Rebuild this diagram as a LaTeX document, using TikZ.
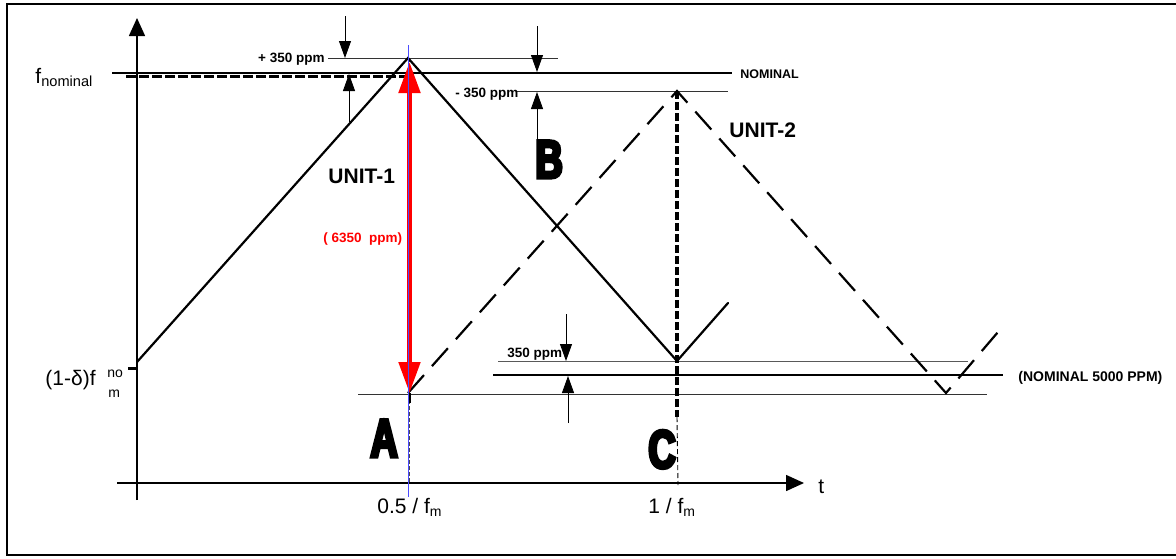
\documentclass[tikz,border=0pt]{standalone}
\usepackage{fontspec}
\setmainfont{Liberation Sans}
\newfontfamily\heavyfont[FakeBold=6,FakeStretch=0.7]{Liberation Sans Bold}
\usetikzlibrary{arrows.meta}

\begin{document}
\begin{tikzpicture}[x=1pt,y=-1pt,line width=0.9pt,
    wave/.style={line width=2.2pt,line cap=round},
    wavedash/.style={wave,line cap=butt,dash pattern=on 24pt off 12pt},
    guide/.style={line width=0.9pt,draw=black!80},
    dimarrow/.style={line width=0.9pt,-{Triangle[length=17pt,width=12pt]}},
    axisarrow/.style={line width=1.5pt,-{Triangle[length=18pt,width=16pt]}},
    ppmlbl/.style={inner sep=0pt,font=\bfseries\fontsize{13.5}{15}\selectfont},
    unitlbl/.style={inner sep=0pt,font=\bfseries\fontsize{21}{23}\selectfont},
    axislbl/.style={inner sep=0pt,font=\fontsize{21}{23}\selectfont},
    bigletter/.style={inner sep=0pt,font=\heavyfont\fontsize{54}{54}\selectfont}]
  \useasboundingbox (0,0) rectangle (1176,558);
  % frame
  \draw[line width=2pt] (1176,4) -- (7,4) -- (7,555) -- (1176,555);

  % key points of the two sweeps
  \coordinate (uastart) at (137,362);
  \coordinate (uapeak) at (408,58);
  \coordinate (uavalley) at (677,361);
  \coordinate (uaend) at (728,303);
  \coordinate (ubstart) at (408,393);
  \coordinate (ubpeak) at (677,91);
  \coordinate (ubvalley) at (946,393);
  \coordinate (ubend) at (998,332);

  % axes
  \coordinate (yfoot) at (137,500);
  \coordinate (ytop) at (137,18);
  \coordinate (xfoot) at (117,483);
  \coordinate (xtip) at (804,483);
  \draw[axisarrow] (yfoot) -- (ytop);
  \draw[axisarrow] (xfoot) -- (xtip);
  \node[axislbl,anchor=base west] (tlbl) at (818,493) {t};
  \node[axislbl,anchor=base west] (halflbl) at (377,513) {0.5 / f\raisebox{-0.3ex}{\fontsize{14}{15}\selectfont m}};
  \node[axislbl,anchor=base west] (onelbl) at (648,513) {1 / f\raisebox{-0.3ex}{\fontsize{14}{15}\selectfont m}};
  \node[axislbl,anchor=base west] (fnomlbl) at (35,83) {f\raisebox{-0.35ex}{\fontsize{14.6}{16}\selectfont nominal}};
  \node[axislbl,anchor=base west] (flowlbl) at (45,385) {(1-δ)f};
  \node[inner sep=0pt,anchor=base west,font=\fontsize{14}{15}\selectfont] (flowsup) at (107,377) {no};
  \node[inner sep=0pt,anchor=base west,font=\fontsize{14}{15}\selectfont] (flowsub) at (108,397) {m};
  \draw[line width=3pt] (128,368) -- (137,368);

  % nominal level
  \coordinate (nomleft) at (112,73);
  \coordinate (nomright) at (732,73);
  \draw[line width=2.5pt] (nomleft) -- (nomright);
  \draw[line width=3pt,dash pattern=on 10pt off 3pt] (126,76) -- (410,76);
  \node[ppmlbl,anchor=base west,font=\bfseries\fontsize{12.5}{14}\selectfont] (nomlbl) at (740,78) {NOMINAL};

  % lower nominal level
  \coordinate (lowleft) at (493,375);
  \coordinate (lowright) at (1003,375);
  \draw[line width=2.5pt] (lowleft) -- (lowright);
  \node[ppmlbl,anchor=base west,font=\bfseries\fontsize{14}{15}\selectfont] (lowlbl) at (1018,381) {(NOMINAL 5000 PPM)};

  % guide lines
  \draw[guide] (328,58) -- (558,58);
  \draw[guide] (517,91) -- (728,91);
  \draw[guide,draw=black!65] (498,361) -- (968,361);
  \draw[guide] (358,394) -- (987,394);

  % tolerance arrows
  \draw[dimarrow] (345,16) -- (345,58);
  \draw[dimarrow] (349,122) -- (349,74);
  \draw[dimarrow] (537,26) -- (537,72);
  \draw[dimarrow] (537,140) -- (537,92);
  \draw[dimarrow] (566,314) -- (566,361);
  \draw[dimarrow] (568,423) -- (568,376);
  \node[ppmlbl,anchor=base east] (plusppm) at (325,62) {+ 350 ppm};
  \node[ppmlbl,anchor=base west] (minusppm) at (455,97) {- 350 ppm};
  \node[ppmlbl,anchor=base west] (lowppm) at (507,357) {350 ppm};

  % markers at half and full period
  \draw[black!70,dash pattern=on 4pt off 2pt] (uapeak) ++(1,0) -- (409,483);
  \draw[line width=3.5pt,dash pattern=on 8pt off 3pt] (ubpeak) -- (677,417);
  \draw[dash pattern=on 5pt off 3pt] (677,417) -- (678,485);
  \draw[line width=3pt] (409,393) -- (409,403);

  % the two sweeps
  \draw[wave] (uastart) -- (uapeak) -- (uavalley) -- (uaend);
  \draw[wavedash] (ubstart) -- (ubpeak) -- (ubvalley) -- (ubend);

  % spread between the units
  \draw[red,line width=5pt,{Triangle[length=31pt,width=21pt]}-{Triangle[length=31pt,width=21pt]}] (409.5,62) -- (409.5,393);
  \draw[blue!70,line width=1pt] (408.5,45) -- (408.5,497);
  \node[ppmlbl,anchor=base west,text=red] (spreadlbl) at (323,242) {( 6350~ ppm)};

  % labels
  \node[unitlbl,anchor=base west] (unitone) at (328,183) {UNIT-1};
  \node[unitlbl,anchor=base west] (unittwo) at (729,137) {UNIT-2};
  \node[bigletter,anchor=base west] (ptA) at (370,457) {A};
  \node[bigletter,anchor=base west] (ptB) at (535,178) {B};
  \node[bigletter,anchor=base west] (ptC) at (648,468) {C};
\end{tikzpicture}
\end{document}
